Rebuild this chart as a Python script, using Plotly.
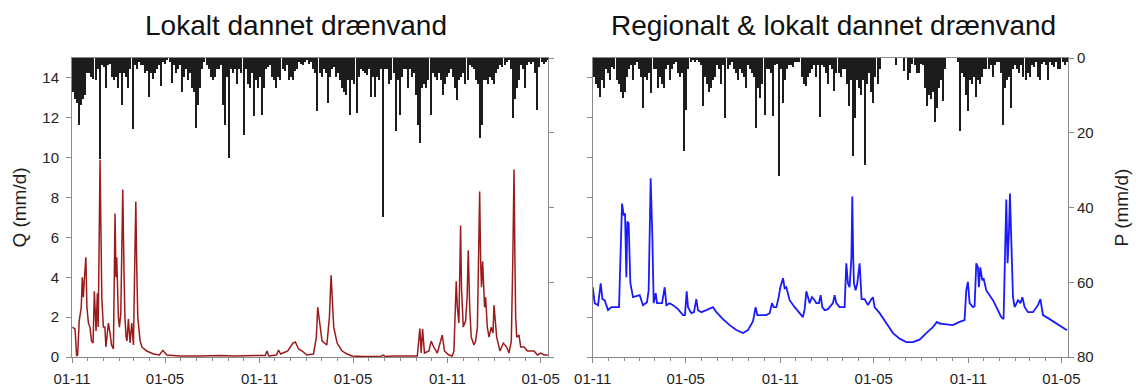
import numpy as np
import pandas as pd
import plotly.graph_objects as go

# ---------------- data ----------------
START = pd.Timestamp("2006-11-01")
END_LEFT_DAY = 927
END_RIGHT_DAY = 925
BIN_DAYS = 4  # precipitation shown as 4-day bins

titles = ["Lokalt dannet drænvand", "Regionalt & lokalt dannet drænvand"]
q_title = "Q (mm/d)"
p_title = "P (mm/d)"

# Left panel: discharge Q (mm/d), day offset from START
q_local_day = [1, 6, 9, 11, 14, 16, 18, 20, 22, 24, 27, 29, 32, 35, 38, 41, 43.5, 46.8, 49.4, 51,
               53, 54.6, 56.5, 58, 61, 64, 66, 70.8, 74, 77, 80.6, 82, 83.8, 85.5, 87, 90.3, 92.3, 95,
               97, 98.8, 101.4, 103, 105.3, 107, 109.8, 113, 116.3, 119.6, 122, 124.2, 126, 128,
               132.6, 136, 145.6, 158.6, 170, 176.8, 184.6, 210, 250, 290, 315, 366, 376, 379.5,
               383, 398, 402, 406, 410, 420, 425, 430, 434.7, 441, 448, 457, 470, 475.6, 478.2, 482,
               486.7, 496, 501, 504.2, 509.4, 516, 525.6, 535.4, 545, 568, 600, 605.5, 610, 626,
               672, 677, 679.6, 682.3, 686, 694.6, 699, 704, 711, 720.6, 725, 733.6, 740, 743.3,
               747.8, 750, 753, 756.3, 758, 761.5, 766, 769, 771.2, 774, 777, 782.3, 785.6, 789,
               791.5, 793.4, 795.3, 797, 799.2, 803, 805, 808.3, 811.6, 816, 819.4, 821.3, 826.5,
               833, 839.5, 846, 850.5, 855, 858, 860.3, 862, 863.5, 865.5, 870, 873.3, 879.8, 886.3,
               899.3, 905.8, 912.3, 918.8, 926]
q_local_mm = [1.5, 1.4, 0.05, 0.1, 1.8, 2.2, 2.5, 4.0, 3.0, 3.9, 5.0, 2.5, 1.7, 1.5, 0.8, 0.7, 3.3, 1.3, 3.2, 1.5,
              7.7, 9.9, 6.0, 3.0, 1.5, 1.5, 0.5, 1.7, 1.2, 0.6, 0.4, 3.0, 7.2, 4.0, 5.0, 2.0, 1.5, 2.2,
              6.8, 8.4, 4.0, 2.0, 1.0, 0.8, 1.9, 0.7, 1.7, 0.6, 4.5, 7.8, 4.5, 2.0,
              0.8, 0.5, 0.3, 0.15, 0.1, 0.33, 0.1, 0.05, 0.05, 0.08, 0.05, 0.05, 0.08, 0.3,
              0.05, 0.1, 0.35, 0.15, 0.2, 0.3, 0.5, 0.7, 0.75, 0.4, 0.3, 0.1, 0.15, 1.0, 2.5, 1.6,
              0.8, 0.6, 2.0, 4.1, 1.5, 0.7, 0.3, 0.15, 0.05, 0.02, 0.02, 0.1, 0.03, 0.05,
              0.05, 1.43, 0.2, 1.4, 0.2, 0.3, 0.8, 0.5, 0.2, 1.1, 0.3, 0.1, 0.05, 0.3,
              3.8, 2.5, 1.7, 6.6, 3.5, 1.5, 1.8, 3.0, 5.35, 2.5, 1.0, 0.6, 0.8, 1.5,
              5.5, 8.3, 4.8, 3.5, 4.8, 2.5, 3.0, 1.5, 1.0, 1.5, 1.2, 2.6, 1.0,
              0.3, 0.7, 0.5, 0.2, 0.8, 5.0, 9.4, 5.0, 2.0, 1.0, 1.1, 0.5, 0.5, 0.3,
              0.3, 0.1, 0.2, 0.1, 0.1]

# Right panel: discharge Q (mm/d)
q_regional_day = [0, 3.9, 10.4, 15.6, 18.9, 23.3, 29.8, 36.3, 42.8, 51.2, 54.5, 57.1, 60.3, 62.9, 65.5,
                  67.4, 70, 73.3, 78.5, 84.9, 91.4, 97.9, 105.7, 108.9, 112.8, 116.1, 118.7, 122.6,
                  125.2, 129.1, 134.9, 140.1, 143.4, 149.8, 156.3, 166, 175.7, 179.6, 182.9, 185.5,
                  192, 197.1, 201.7, 204.9, 211.4, 221.2, 234.1, 240.7, 253.5, 266.5, 279.6, 292.4,
                  302.1, 312, 317.1, 320.4, 328.2, 337.9, 344.4, 348.9, 352.1, 357.4, 361.9, 365.2,
                  370.4, 373.5, 376.8, 383.3, 393, 402.7, 409.1, 412.5, 415.8, 419, 422.2, 426.7,
                  430.6, 435.2, 440.4, 443.6, 446.9, 451.4, 457.8, 467.5, 470.8, 474.1, 480.5, 490.3,
                  493.5, 496.7, 500, 503.5, 505.2, 507, 508.4, 511.7, 514.9, 519.5, 523.3, 529.2,
                  535.6, 542.2, 545.4, 548.6, 558.4, 571.3, 584.3, 597.3, 610.3, 623.2, 636.2, 649.2,
                  662.1, 669.9, 675.1, 688.1, 701, 714, 723.7, 727, 730.2, 733.5, 740, 743.2, 746.5,
                  749.7, 751.6, 754.3, 758.2, 760.7, 765.9, 772.4, 778.9, 788.6, 795.1, 799.6, 802.2,
                  804.9, 807.4, 810, 812, 814.7, 817.9, 821.2, 827.7, 832.3, 836.2, 840.6, 847.1,
                  856.8, 866.5, 871.2, 876.3, 889.3, 902.3, 915.2, 923]
q_regional_mm = [3.5, 2.7, 2.6, 3.7, 2.9, 2.85, 2.35, 2.5, 2.5, 2.5, 5.4, 7.7, 7.1, 7.2, 4.0,
                 6.8, 6.7, 3.7, 3.0, 3.05, 3.1, 2.6, 2.75, 3.35, 8.97, 6.0, 2.7, 3.2,
                 2.7, 2.7, 2.7, 3.5, 2.6, 2.7, 2.6, 2.4, 2.1, 2.1, 3.3, 2.5,
                 2.2, 2.25, 2.9, 2.35, 2.25, 2.35, 2.5, 2.25, 1.9, 1.6, 1.35, 1.2,
                 1.35, 1.8, 2.5, 2.1, 2.1, 2.1, 2.2, 2.7, 2.5, 2.5, 3.0, 3.5,
                 3.95, 3.45, 3.5, 2.85, 2.5, 2.2, 2.0, 2.4, 3.3, 3.0, 2.7, 3.0,
                 2.9, 2.7, 2.7, 3.1, 2.5, 2.35, 2.4, 2.7, 3.1, 2.7, 2.5, 2.5,
                 4.7, 3.7, 3.5, 5.0, 8.05, 5.0, 3.7, 3.35, 3.7, 4.7, 2.9, 2.9,
                 2.6, 2.9, 3.0, 2.5, 2.2, 1.7, 1.2, 0.92, 0.75, 0.75, 0.87, 1.2,
                 1.5, 1.76, 1.68, 1.64, 1.6, 1.76, 1.85, 3.35, 3.77, 2.7, 2.5, 2.55, 4.7,
                 4.5, 3.5, 4.5, 3.85, 3.95, 3.35, 3.1, 2.85, 2.35, 2.0, 1.9, 4.35,
                 7.9, 4.7, 6.2, 8.2, 5.4, 3.0, 2.5, 2.85, 2.7, 3.0, 2.5, 2.25,
                 2.25, 2.6, 2.9, 2.1, 1.9, 1.68, 1.47, 1.34]

# Precipitation P (mm/d), consecutive 4-day bins from START
p_local_mm = [9, 11, 12, 18, 12.5, 11, 10, 4, 4, 5,
              5.5, 6, 3, 27, 2, 2.5, 8, 2, 1.5, 5,
              6, 5, 8, 4, 12.5, 4, 5, 8, 3, 19,
              2, 3, 1, 2, 2, 4, 3.5, 10.3, 4, 5.5,
              4, 3, 2, 7.6, 1, 1.5, 0.5, 1, 6.7, 2,
              4, 3, 2, 9, 5, 3, 6, 4, 8, 9,
              18.75, 12.5, 8, 3, 1, 2, 3, 5, 6, 5,
              3, 3, 2, 12.5, 17.9, 5, 26.8, 3, 4, 3,
              7, 3, 4, 20.5, 3, 7, 8, 4, 15.6, 6,
              8, 5, 15.2, 8, 3, 2.5, 2, 5, 6, 8,
              5, 6, 3, 3.5, 2, 6, 5, 6, 3.5, 3,
              1, 1.5, 2, 1, 0.5, 1.5, 1, 3, 4, 14.3,
              4, 5, 3, 4, 12, 5, 3, 2.5, 5, 4,
              6, 8, 9, 10, 6, 15.2, 6, 7, 14.7, 5,
              3, 3.5, 4, 4.5, 3, 10.5, 5, 10.3, 5, 6,
              3, 42.5, 3, 3, 7, 6, 4, 19.6, 6, 15.2,
              5, 3, 3, 8, 3, 5, 4, 10, 17.9, 22.8,
              8, 7, 8, 6, 15.2, 4, 5, 6, 4, 6,
              9.8, 7, 5, 4, 3, 5, 8, 11.2, 6, 5,
              4, 7, 6, 2, 2.5, 3, 6, 7, 21.4, 17.9,
              6, 6, 7, 5, 6, 7, 4, 3, 2, 2.5,
              2, 1, 0.5, 3, 16.1, 11, 8, 6, 2, 3,
              8, 2, 1, 1.5, 1, 4, 13.8, 2.5, 1, 1.5,
              1, 0.5]
p_regional_mm = [5, 7, 8, 10.3, 6, 8, 3, 4, 6, 2.5,
                 3, 6, 7, 9, 10.7, 9, 5, 3, 2, 6,
                 2, 1, 3, 5, 13.4, 5, 6, 4, 9.4, 3,
                 3, 8, 5, 7, 8, 3, 2, 6, 3, 1.5,
                 1, 4, 5, 4, 25, 13.8, 3, 1, 0.5, 1,
                 0.5, 1, 2, 12.9, 5, 7, 9, 8, 6, 5,
                 2, 3, 7, 2, 16, 3, 2, 1, 3, 4,
                 6, 3, 4, 5, 8, 2, 3, 4, 5, 18.75,
                 8, 10.7, 7, 15.2, 3, 3, 4, 15.6, 2, 1.5,
                 31.5, 3, 12, 6, 3, 2, 2, 2.5, 1, 1,
                 1, 5, 7, 7.6, 5, 4, 3, 2, 5, 2,
                 15.9, 2, 2.5, 4, 7, 2, 3, 8.9, 4, 4,
                 5, 3, 3, 7, 12.9, 6, 26.3, 16, 6, 8,
                 10, 6, 28.6, 7, 4, 9, 12, 5, 7, 3,
                 0, 0, 0, 0, 0, 0, 0, 2, 0, 0,
                 0, 3.5, 0, 6, 4, 1.5, 2, 4, 4, 1.5,
                 2, 8, 12.9, 10, 11, 9, 17, 13.4, 8, 6,
                 11.6, 3, 0, 0, 0, 0, 0, 1, 19.5, 4,
                 5, 9.8, 14.3, 6, 7, 5, 10.3, 6, 7, 5,
                 3, 3, 3, 2, 5, 2, 1, 1, 4, 17.9,
                 8, 6, 5, 13.4, 3, 2, 3, 4, 2, 5,
                 6, 4, 5, 2, 2.5, 1, 5, 6, 1.5, 1,
                 2, 6, 1, 2, 2.5, 1, 3, 3, 1, 2,
                 1]

# ---------------- derived dates ----------------
def day_dates(days):
    return START + pd.to_timedelta(np.asarray(days, dtype=float), unit="D")

def bin_dates(values):
    k = np.arange(len(values))
    return START + pd.to_timedelta(k * BIN_DAYS + BIN_DAYS / 2, unit="D")

BAR_W = 2.4 * 86400000
AX = "#8a8a8a"
TXT = "#1e1e1e"
FONT = "Arial, Liberation Sans, sans-serif"
BAR_COLOR = "#1c1c1c"

fig = go.Figure()
fig.add_trace(go.Bar(x=bin_dates(p_local_mm), y=p_local_mm, width=BAR_W,
                     marker=dict(color=BAR_COLOR, line=dict(width=0)),
                     xaxis="x", yaxis="y", showlegend=False))
fig.add_trace(go.Scatter(x=day_dates(q_local_day), y=q_local_mm, mode="lines",
                         line=dict(color="#9b1b1b", width=1.5),
                         xaxis="x", yaxis="y2", showlegend=False))
fig.add_trace(go.Bar(x=bin_dates(p_regional_mm), y=p_regional_mm, width=BAR_W,
                     marker=dict(color=BAR_COLOR, line=dict(width=0)),
                     xaxis="x2", yaxis="y3", showlegend=False))
fig.add_trace(go.Scatter(x=day_dates(q_regional_day), y=q_regional_mm, mode="lines",
                         line=dict(color="#1a1aff", width=1.8),
                         xaxis="x2", yaxis="y4", showlegend=False))

W, H = 1136, 386
ML, MR, MT, MB = 72, 68, 58, 29
PW = W - ML - MR

def px2paper_x(px):
    return (px - ML) / PW

xcommon = dict(type="date", tickformat="%d-%m", tick0="2006-11-01", dtick="M6",
               ticks="outside", ticklen=5, tickcolor=AX, showline=True, linecolor=AX,
               linewidth=1, mirror=True, showgrid=False, zeroline=False,
               ticklabelstandoff=3, automargin=False,
               minor=dict(dtick="M1", tick0="2006-11-01", ticks="outside", ticklen=3,
                          tickcolor=AX, showgrid=False),
               tickfont=dict(size=15, color=TXT, family=FONT))

fig.update_layout(
    width=W, height=H,
    margin=dict(l=ML, r=MR, t=MT, b=MB, pad=0, autoexpand=False),
    paper_bgcolor="white", plot_bgcolor="white",
    bargap=0, barmode="overlay",
    font=dict(family=FONT, color=TXT),
    xaxis=dict(xcommon, domain=[0, px2paper_x(548.3)], anchor="y",
               range=[START, START + pd.Timedelta(days=END_LEFT_DAY)]),
    xaxis2=dict(xcommon, domain=[px2paper_x(592.7), 1.0], anchor="y3",
                range=[START, START + pd.Timedelta(days=END_RIGHT_DAY)]),
    yaxis=dict(anchor="x", side="right", range=[80, 0], tick0=0, dtick=20,
               ticks="outside", ticklen=5, tickcolor=AX, showticklabels=False,
               showline=True, linecolor=AX, showgrid=False, zeroline=False, automargin=False),
    yaxis2=dict(overlaying="y", anchor="x", side="left", range=[0, 15], tick0=0, dtick=2,
                ticks="outside", ticklen=5, tickcolor=AX, showline=True, linecolor=AX,
                showgrid=False, zeroline=False, ticklabelstandoff=4, automargin=False,
                tickfont=dict(size=15, color=TXT, family=FONT),
                title=dict(text=q_title, font=dict(size=19, color=TXT, family=FONT), standoff=10)),
    yaxis3=dict(anchor="x2", side="right", range=[80, 0], tick0=0, dtick=20,
                ticks="outside", ticklen=5, tickcolor=AX, automargin=False,
                showline=True, linecolor=AX, showgrid=False, zeroline=False,
                tickfont=dict(size=15, color=TXT, family=FONT),
                title=dict(text=p_title, font=dict(size=19, color=TXT, family=FONT), standoff=22)),
    yaxis4=dict(overlaying="y3", anchor="x2", side="left", range=[0, 15], tick0=0, dtick=2,
                ticks="outside", ticklen=5, tickcolor=AX, showticklabels=False, automargin=False,
                showline=True, linecolor=AX, showgrid=False, zeroline=False),
    annotations=[
        dict(text=titles[0], x=px2paper_x(296), y=1 + (MT - 25) / (H - MT - MB),
             xref="paper", yref="paper", xanchor="center", yanchor="middle",
             showarrow=False, font=dict(size=28, color="#111111", family=FONT)),
        dict(text=titles[1], x=px2paper_x(833), y=1 + (MT - 25) / (H - MT - MB),
             xref="paper", yref="paper", xanchor="center", yanchor="middle",
             showarrow=False, font=dict(size=28, color="#111111", family=FONT)),
    ],
)

fig.write_html("out.html", config={"displayModeBar": False},
               post_script="document.body.style.margin='0';document.body.style.overflow='hidden';")
